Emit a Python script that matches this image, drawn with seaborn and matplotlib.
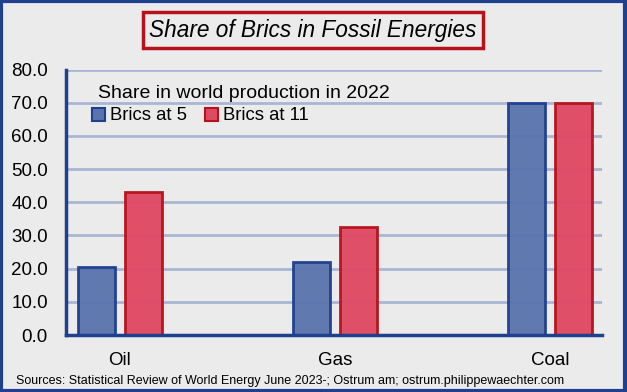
import matplotlib
matplotlib.use('Agg')
import matplotlib.pyplot as plt
import seaborn as sns
import pandas as pd
from matplotlib.patches import Rectangle

ENERGIES = ['Oil', 'Gas', 'Coal']
BRICS_5 = [20.6, 22.1, 70.0]
BRICS_11 = [43.2, 32.6, 70.0]
GROUPS = ['Brics at 5', 'Brics at 11']

BG = '#EBEBEB'
NAVY = '#1F3F8F'
FILL = {'Brics at 5': '#5A75AD', 'Brics at 11': '#DF4A63'}
EDGE = {'Brics at 5': '#1F3F8F', 'Brics at 11': '#B5121B'}

df = pd.DataFrame({
    'Energy': ENERGIES * 2,
    'Share': BRICS_5 + BRICS_11,
    'Group': [GROUPS[0]] * 3 + [GROUPS[1]] * 3,
})

sns.set_style('white')
plt.rcParams['font.family'] = ['Liberation Sans', 'DejaVu Sans']
plt.rcParams['text.color'] = 'black'
plt.rcParams['xtick.color'] = 'black'
plt.rcParams['ytick.color'] = 'black'

fig = plt.figure(figsize=(6.27, 3.92), dpi=100, facecolor=BG)
ax = fig.add_axes([0.105, 0.1454, 0.855, 0.677])
ax.set_facecolor(BG)

sns.barplot(data=df, x='Energy', y='Share', hue='Group', order=ENERGIES,
            hue_order=GROUPS, palette=FILL, saturation=1, width=0.442, gap=0.22,
            linewidth=2, ax=ax, zorder=3)

for cont, grp in zip(ax.containers, GROUPS):
    for bar in cont:
        bar.set_edgecolor(EDGE[grp])
        bar.set_alpha(0.96)

ax.set_ylim(0, 80)
ax.set_xlim(-0.251, 2.242)
ax.set_yticks(range(0, 81, 10))
ax.set_yticklabels([f'{v:.1f}' for v in range(0, 81, 10)], fontsize=13.5)
ax.tick_params(axis='y', length=0, pad=13)
ax.tick_params(axis='x', length=0, pad=12, labelsize=13.5)
ax.set_xlabel('')
ax.set_ylabel('')
ax.grid(axis='y', color='#A9B6D3', linewidth=2, zorder=0)
ax.set_axisbelow(True)
for side in ['top', 'right']:
    ax.spines[side].set_visible(False)
for side in ['left', 'bottom']:
    ax.spines[side].set_color(NAVY)
    ax.spines[side].set_linewidth(2.5)
    ax.spines[side].set_zorder(4)

# legend title drawn separately so it sits a little right of the markers
fig.text(98 / 627, 1 - 93 / 392, 'Share in world production in 2022',
         ha='left', va='center', fontsize=14)
leg = ax.legend(ncol=2, frameon=False, loc='center left',
                bbox_to_anchor=(92 / 627, 1 - 116 / 392), bbox_transform=fig.transFigure,
                fontsize=13.3, handlelength=0.7, handleheight=0.7,
                handletextpad=0.25, columnspacing=1.0,
                borderpad=0, borderaxespad=0)
for h, grp in zip(leg.legend_handles, GROUPS):
    h.set_edgecolor(EDGE[grp])
    h.set_linewidth(1.5)

fig.text(313 / 627, 1 - 30 / 392, 'Share of Brics in Fossil Energies',
         ha='center', va='center', fontsize=16.3, style='italic',
         bbox=dict(boxstyle='square,pad=0.3', facecolor='none',
                   edgecolor='#B5121B', linewidth=2.5))

fig.text(16 / 627, 1 - 381 / 392,
         'Sources: Statistical Review of World Energy June 2023-; Ostrum am; ostrum.philippewaechter.com',
         ha='left', va='center', fontsize=9)

fig.patches.append(Rectangle((0.002, 0.003), 0.995, 0.994, transform=fig.transFigure,
                             fill=False, edgecolor=NAVY, linewidth=3))

fig.savefig('out.png', dpi=100, facecolor=BG)
